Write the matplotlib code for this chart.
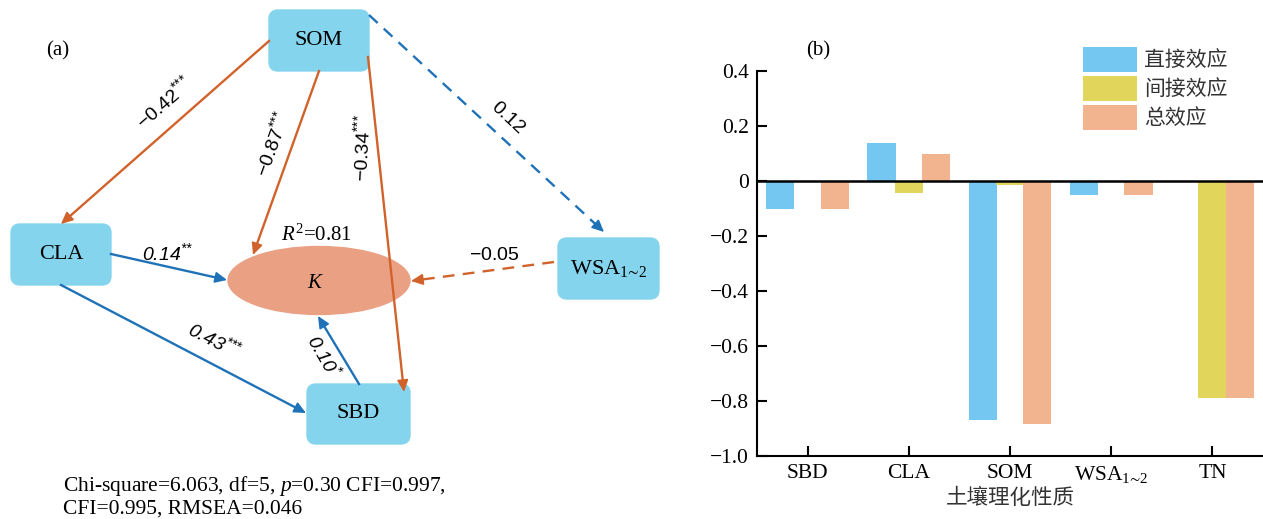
import numpy as np
import matplotlib
matplotlib.use('Agg')
import matplotlib.pyplot as plt
from matplotlib.patches import FancyBboxPatch, Ellipse
from matplotlib.font_manager import FontProperties

plt.rcParams['font.family'] = ['Liberation Serif', 'Noto Sans CJK SC']
plt.rcParams['mathtext.fontset'] = 'custom'
plt.rcParams['mathtext.rm'] = 'Liberation Serif'
plt.rcParams['mathtext.it'] = 'Liberation Serif:italic'
plt.rcParams['mathtext.sf'] = 'Liberation Sans'
plt.rcParams['mathtext.cal'] = 'Liberation Sans:italic'

# ---- data for (b): effects on K
categories = ['SBD', 'CLA', 'SOM', 'WSA$_{1∼2}$', 'TN']
direct = [-0.10, 0.14, -0.87, -0.05, 0.0]
indirect = [0.0, -0.044, -0.015, 0.0, -0.79]
total = [-0.10, 0.10, -0.885, -0.05, -0.79]
series_names = ['直接效应', '间接效应', '总效应']
yticks = [0.4, 0.2, 0, -0.2, -0.4, -0.6, -0.8, -1.0]
ytick_labels = ['0.4', '0.2', '0', '−0.2', '−0.4', '−0.6', '−0.8', '−1.0']

# ---- data for (a): path model
path_coef = [-0.42, -0.87, -0.34, 0.12, 0.14, 0.43, 0.10, -0.05]
path_sig = ['***', '***', '***', '', '**', '***', '*', '']
r2 = 0.81
fit_text = 'Chi-square=6.063, df=5, $p$=0.30 CFI=0.997,\nCFI=0.995, RMSEA=0.046'

# layout of the diagram (pixel coords, y down)
boxes = {'SOM': (269, 10, 369, 71), 'CLA': (11, 224, 111, 285),
         'WSA': (558, 238, 659, 299), 'SBD': (307, 384, 410, 444)}
box_text = {'SOM': 'SOM', 'CLA': 'CLA', 'WSA': 'WSA$_{1∼2}$', 'SBD': 'SBD'}
path_xy = [((269, 41), (61, 224)), ((319, 71), (253, 255)), ((368, 57), (404, 392)),
           ((369, 15), (604, 232)), ((111, 254), (227, 280)), ((61, 285), (306, 413)),
           ((359, 384), (318, 316)), ((554, 262), (411, 281))]
label_pos = [(164, 102), (272, 144), (362, 148), (508, 118),
             (168, 253), (215, 340), (324, 356), (494, 255)]
label_rot = [41, 70, 87, -43, 0, -27, -60, 0]
label_italic = [False, False, False, False, True, True, True, False]

orange = '#D2622B'
blue = '#1F72B8'
box_col = '#85D4EE'
ell_col = '#EAA083'
bar_cols = ['#74C7F0', '#E1D55B', '#F1B48F']

fig = plt.figure(figsize=(12.63, 5.19), dpi=100)

# ================= (a) path diagram
ax = fig.add_axes([0, 0, 690 / 1263, 1])
ax.set_xlim(0, 690)
ax.set_ylim(519, 0)
ax.axis('off')

ax.add_patch(Ellipse((319, 280.5), 182, 68, color=ell_col, zorder=1))
ax.text(314, 283, 'K', fontsize=15, style='italic', ha='center', va='center', zorder=5)
ax.text(317, 235, r'$\mathit{R}^{2}$=%.2f' % r2, fontsize=15, ha='center', va='center')

for k, (x0, y0, x1, y1) in boxes.items():
    ax.add_patch(FancyBboxPatch((x0, y0), x1 - x0, y1 - y0,
                                boxstyle='round,pad=0,rounding_size=9',
                                color=box_col, zorder=2))
    ax.text((x0 + x1) / 2, (y0 + y1) / 2, box_text[k], fontsize=16,
            ha='center', va='center', zorder=5)

for i, c in enumerate(path_coef):
    col = blue if c > 0 else orange
    ls = '--' if path_sig[i] == '' else '-'
    (xs, ys), (xe, ye) = path_xy[i]
    d = np.hypot(xe - xs, ye - ys)
    ux, uy = (xe - xs) / d, (ye - ys) / d
    ax.plot([xs, xe - ux * 6], [ys, ye - uy * 6], color=col, lw=1.7, ls=ls,
            dashes=(5, 3.5) if ls == '--' else (None, None), zorder=3)
    ax.annotate('', xy=(xe, ye), xytext=(xe - ux * 12, ye - uy * 12),
                arrowprops=dict(arrowstyle='-|>,head_length=0.6,head_width=0.28',
                                color=col, lw=1.2, shrinkA=0, shrinkB=0,
                                mutation_scale=12), zorder=3)
    font = r'\mathcal' if label_italic[i] else r'\mathsf'
    s = '%.2f' % c
    if path_sig[i]:
        s += '^{' + ''.join('{*}' for _ in path_sig[i]) + '}'
    ax.text(label_pos[i][0], label_pos[i][1], '$' + font + '{' + s + '}$',
            fontsize=14, rotation=label_rot[i], rotation_mode='anchor',
            ha='center', va='center', zorder=5)

ax.text(58, 51, '(a)', fontsize=15, ha='center', va='center')
ax.text(63, 496, fit_text, fontsize=15.5, ha='left', va='center', linespacing=1.1)

# ================= (b) bar chart
ax2 = fig.add_axes([757 / 1263, 63 / 519, 506 / 1263, 385 / 519])
x = np.arange(len(categories))
for off, vals, col, name in zip([-0.27, 0, 0.27], [direct, indirect, total],
                                bar_cols, series_names):
    ax2.bar(x + off, vals, 0.28, color=col, label=name, edgecolor='none')
ax2.axhline(0, color='black', lw=1.8)
ax2.set_xlim(-0.5, 4.5)
ax2.set_ylim(-1.0, 0.4)
ax2.set_yticks(yticks)
ax2.set_yticklabels(ytick_labels)
ax2.set_xticks(x)
ax2.set_xticklabels(categories)
for s in ['top', 'right']:
    ax2.spines[s].set_visible(False)
for s in ['left', 'bottom']:
    ax2.spines[s].set_linewidth(1.5)
ax2.tick_params(direction='in', length=7, width=1.5, labelsize=15.5, pad=6)
ax2.set_xlabel('土壤理化性质', fontsize=15.5, family='Noto Sans CJK SC',
               color='#333333', labelpad=1)
fig.text(818 / 1263, 1 - 51 / 519, '(b)', fontsize=15, ha='center', va='center')

ax2.legend(loc='upper left', bbox_to_anchor=(1083 / 1263, 1 - 47 / 519),
           bbox_transform=fig.transFigure, frameon=False,
           prop=FontProperties(family='Noto Sans CJK SC', size=15),
           labelcolor='#333333', handlelength=2.6, handleheight=1.45,
           labelspacing=0.2, handletextpad=0.35, borderpad=0, borderaxespad=0)

fig.savefig('out.png', dpi=100)
